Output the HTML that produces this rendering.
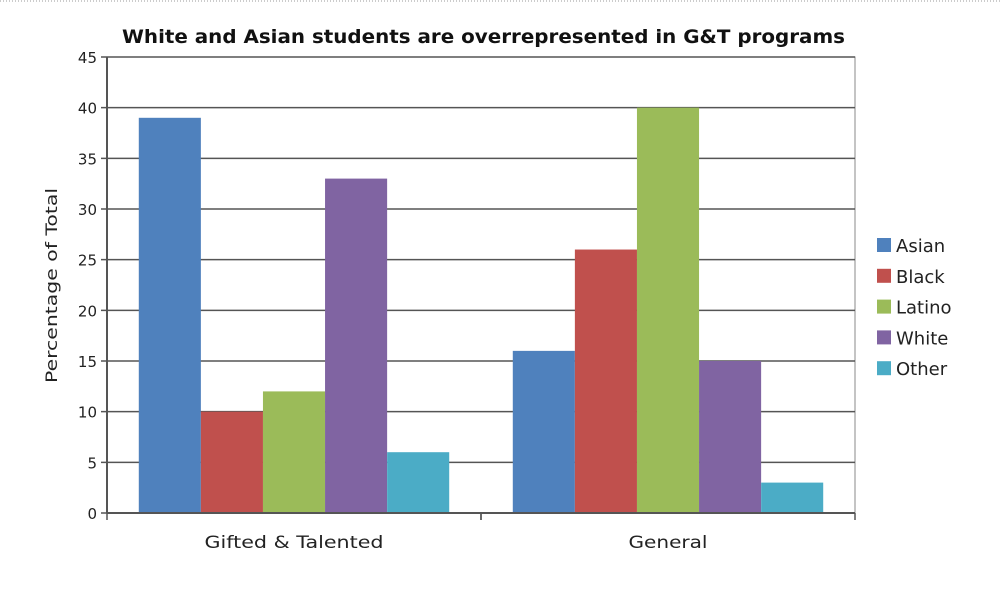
<!DOCTYPE html>
<html><head><meta charset="utf-8"><style>
body{margin:0;background:#fff;width:1000px;height:590px;overflow:hidden}
svg{display:block;font-family:"DejaVu Sans","Liberation Sans",sans-serif}
</style></head><body>
<svg id="chart" width="1000" height="590">
<line x1="0" y1="1" x2="1000" y2="1" stroke="#999" stroke-dasharray="1,2"/>
<text x="122" y="43" font-size="19" font-weight="bold" fill="#111" textLength="723" lengthAdjust="spacingAndGlyphs">White and Asian students are overrepresented in G&amp;T programs</text>
<text transform="translate(57,383) rotate(-90)" font-size="16" fill="#222" textLength="195" lengthAdjust="spacingAndGlyphs">Percentage of Total</text>
<g id="grid"></g><g id="bars"></g><g id="axes"></g><g id="legend"></g>
</svg>
<script>
const categories=["Gifted & Talented","General"];
const seriesNames=["Asian","Black","Latino","White","Other"];
const colors=["#4f81bd","#c0504d","#9bbb59","#8064a2","#4bacc6"];
const asian=[39,16];
const black=[10,26];
const latino=[12,40];
const white=[33,15];
const other=[6,3];
const series=[asian,black,latino,white,other];
const yTicks=[0,5,10,15,20,25,30,35,40,45];
const NS="http://www.w3.org/2000/svg";
const X0=107,X1=855,Y0=513,Y1=57,YMAX=45;
const y=v=>Y0-(Y0-Y1)*v/YMAX;
const catW=(X1-X0)/categories.length;
const barW=catW*0.166;
function mk(t,a,p){const e=document.createElementNS(NS,t);for(const k in a)e.setAttribute(k,a[k]);p.appendChild(e);return e;}
const grid=document.getElementById('grid'),bars=document.getElementById('bars'),axes=document.getElementById('axes'),legend=document.getElementById('legend');
mk('rect',{x:X0,y:Y1,width:X1-X0,height:Y0-Y1,fill:'none',stroke:'#888','stroke-width':1},grid);
yTicks.forEach(v=>{
 const l=mk('line',{x1:X0-6,x2:X1,y1:y(v),y2:y(v),stroke:'#555','stroke-width':1.5},grid);
 
 
 const t=mk('text',{x:X0-10,y:y(v)+6,'text-anchor':'end','font-size':15,fill:'#222'},axes);
 t.textContent=v;
 
 
});
mk('line',{x1:X0,x2:X0,y1:Y1,y2:Y0,stroke:'#555','stroke-width':2},axes);
mk('line',{x1:X0,x2:X1,y1:Y0,y2:Y0,stroke:'#555','stroke-width':2},axes);
const labW=[179,79];
categories.forEach((c,i)=>{
 const cx=X0+catW*(i+0.5);
 [0,1].forEach(j=>mk('line',{x1:X0+catW*(i+j),x2:X0+catW*(i+j),y1:Y0,y2:Y0+7,stroke:'#555','stroke-width':1.5},axes));
 const t=mk('text',{x:cx,y:Y0+35,'text-anchor':'middle','font-size':17,fill:'#222',textLength:labW[i],lengthAdjust:'spacingAndGlyphs'},axes);
 t.textContent=c;
 
 
 series.forEach((s,k)=>{
  const bx=cx-barW*2.5+barW*k;
  const r=mk('rect',{x:bx,y:y(s[i]),width:barW,height:Y0-y(s[i]),fill:colors[k]},bars);
  
  
 });
});
seriesNames.forEach((n,k)=>{
 const g=mk('g',{},legend);
 
 
 const cy=245+k*30.8;
 mk('rect',{x:877,y:cy-7,width:14,height:14,fill:colors[k]},g);
 const t=mk('text',{x:896,y:cy+7,'font-size':18,fill:'#222'},g);
 t.textContent=n;
});
</script>
</body></html>
